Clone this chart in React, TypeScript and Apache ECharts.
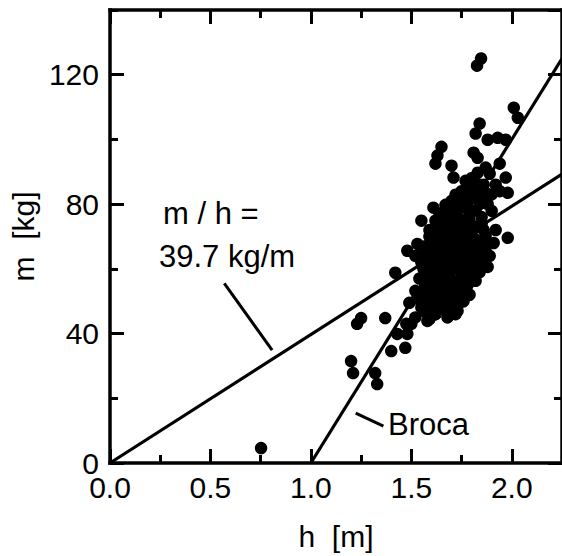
import React, { useEffect, useRef } from "react";
import * as echarts from "echarts";

// height h [m], mass m [kg]
const points: [number, number][] = [
  [0.752, 4.6],
  // low outliers
  [1.20, 31.5], [1.21, 27.8], [1.32, 27.8], [1.33, 24.4], [1.25, 44.8], [1.23, 43.0], [1.37, 44.8],
  [1.40, 34.6], [1.47, 35.6], [1.43, 39.9], [1.48, 39.9], [1.475, 43.0], [1.50, 43.0],
  [1.42, 58.8], [1.49, 49.5], [1.52, 53.2], [1.58, 43.9], [1.62, 46.0], [1.74, 49.5], [1.55, 49.5], [1.73, 50.1],
  // band 44-50
  [1.52, 45], [1.56, 47], [1.59, 44.5], [1.62, 46], [1.65, 48], [1.68, 45], [1.70, 49], [1.73, 47], [1.76, 50],
  [1.58, 50], [1.63, 49], [1.67, 50], [1.55, 48], [1.60, 48.5], [1.72, 46], [1.68, 46.5],
  // band 50-55
  [1.55, 52], [1.58, 53], [1.61, 51], [1.64, 54], [1.67, 52], [1.70, 53], [1.73, 51], [1.76, 54], [1.79, 52],
  [1.60, 55], [1.66, 55], [1.72, 55], [1.82, 56.3], [1.53, 51], [1.62, 53], [1.65, 51], [1.71, 51], [1.74, 53],
  // band 55-60
  [1.54, 57], [1.57, 58], [1.60, 56], [1.63, 59], [1.66, 57], [1.69, 58], [1.72, 56], [1.75, 59], [1.78, 57],
  [1.81, 58], [1.84, 59], [1.58, 60], [1.65, 60], [1.71, 60], [1.77, 60], [1.57, 55], [1.63, 57], [1.69, 55],
  [1.75, 57], [1.68, 56], [1.59, 59], [1.56, 60], [1.75, 60], [1.78, 55],
  // band 60-65
  [1.55, 62], [1.58, 63], [1.61, 61], [1.64, 62], [1.67, 64], [1.70, 61], [1.73, 63], [1.76, 62], [1.79, 64],
  [1.82, 61], [1.85, 63], [1.88, 60.6], [1.60, 65], [1.66, 65], [1.72, 65], [1.78, 65], [1.84, 65], [1.52, 64],
  [1.65, 62], [1.71, 63], [1.77, 63], [1.69, 63], [1.63, 64], [1.81, 63], [1.83, 62], [1.56, 65],
  // band 65-70
  [1.48, 65.6], [1.53, 67.7], [1.57, 67], [1.60, 68], [1.63, 66], [1.66, 69], [1.69, 67], [1.72, 68], [1.75, 66],
  [1.78, 69], [1.81, 67], [1.84, 68], [1.87, 66.5], [1.89, 64], [1.98, 69.6], [1.62, 70], [1.68, 70], [1.74, 70],
  [1.80, 70], [1.64, 68], [1.70, 69], [1.76, 68], [1.82, 69], [1.86, 69], [1.87, 70], [1.59, 70],
  // band 70-75
  [1.55, 74.9], [1.62, 74.9], [1.59, 72], [1.65, 73], [1.68, 71], [1.71, 74], [1.74, 72], [1.77, 74], [1.80, 71],
  [1.83, 73], [1.86, 72], [1.67, 75], [1.73, 75], [1.79, 75], [1.61, 72], [1.67, 72], [1.73, 73], [1.79, 72],
  [1.85, 74], [1.91, 68], [1.92, 72],
  // band 75-80
  [1.61, 78.9], [1.67, 79.8], [1.64, 77], [1.70, 78], [1.73, 76], [1.76, 79], [1.79, 77], [1.82, 78], [1.85, 76],
  [1.90, 77.9], [1.88, 80], [1.66, 76], [1.72, 77], [1.78, 79], [1.84, 80],
  // band 80-92
  [1.71, 88.2], [1.77, 87.2], [1.83, 89.7], [1.87, 91.3], [1.89, 89.4], [1.97, 88.2], [1.98, 83.5], [1.72, 82.9],
  [1.82, 82], [1.87, 83.5], [1.75, 84], [1.79, 85], [1.84, 86], [1.92, 86], [1.94, 84], [1.78, 81], [1.74, 80.5],
  [1.86, 81], [1.70, 81], [1.76, 82], [1.81, 84], [1.86, 86], [1.90, 83], [1.80, 88],
  // upper
  [1.847, 125], [1.827, 122.8], [2.01, 109.8], [2.03, 106.7], [1.84, 104.9], [1.82, 101.8], [1.88, 99.9],
  [1.93, 100.5], [1.97, 99.9], [1.65, 97.7], [1.63, 95], [1.62, 92.5], [1.81, 95.9], [1.83, 94.3], [1.70, 91.9], [1.94, 92.5],
];

const ratioLine: [number, number][] = [[0, 0], [2.25, 89.3]];
const brocaLine: [number, number][] = [[1.0, 0], [2.25, 125]];
const ratioLeader: [number, number][] = [[0.569, 55.5], [0.807, 34.9]];
const brocaLeader: [number, number][] = [[1.223, 15.4], [1.361, 11.4]];

const xTickLabels = ["0.0", "0.5", "1.0", "1.5", "2.0"];
const yTickLabels = ["0", "40", "80", "120"];

const FONT = "'Liberation Sans', Arial, Helvetica, sans-serif";

export default function App() {
  const ref = useRef<HTMLDivElement>(null);
  useEffect(() => {
    if (!ref.current) return;
    const chart = echarts.init(ref.current, undefined, { renderer: "svg" });
    const black = "#000";
    const baseX = { type: "value" as const, min: 0, max: 2.25, splitLine: { show: false } };
    const baseY = { type: "value" as const, min: 0, max: 140, splitLine: { show: false } };
    const line = { show: true, onZero: false, lineStyle: { color: black, width: 3.5, cap: "square" as const } };
    const noLine = { show: false, onZero: false };
    const major = { show: true, inside: true, length: 14, lineStyle: { color: black, width: 3 } };
    const minor = { show: true, inside: true, length: 8, lineStyle: { color: black, width: 3 } };
    chart.setOption({
      animation: false,
      backgroundColor: "#fff",
      grid: { left: 110, right: -2.5, top: 10, bottom: 93, containLabel: false },
      xAxis: [
        {
          ...baseX, position: "bottom", interval: 0.5, axisLine: line, axisTick: major,
          axisLabel: {
            show: true, fontSize: 30, lineHeight: 20, color: black, fontFamily: FONT, margin: 14, showMaxLabel: false,
            formatter: (v: number) => { const i = Math.round(v / 0.5); return Math.abs(v - i * 0.5) < 1e-6 ? xTickLabels[i] ?? "" : ""; },
          },
          name: "h  [m]", nameLocation: "middle", nameGap: 58,
          nameTextStyle: { fontSize: 30, color: black, fontFamily: FONT },
        },
        { ...baseX, position: "bottom", interval: 0.25, axisLine: noLine, axisTick: minor, axisLabel: { show: false } },
        { ...baseX, position: "top", interval: 0.5, axisLine: line, axisTick: major, axisLabel: { show: false } },
        { ...baseX, position: "top", interval: 0.25, axisLine: noLine, axisTick: minor, axisLabel: { show: false } },
      ],
      yAxis: [
        {
          ...baseY, position: "left", interval: 40, axisLine: line, axisTick: major,
          axisLabel: {
            show: true, fontSize: 30, lineHeight: 20, color: black, fontFamily: FONT, margin: 11, showMaxLabel: false,
            formatter: (v: number) => { const i = Math.round(v / 40); return Math.abs(v - i * 40) < 1e-6 ? yTickLabels[i] ?? "" : ""; },
          },
          name: "m  [kg]", nameLocation: "middle", nameGap: 66,
          nameTextStyle: { fontSize: 30, color: black, fontFamily: FONT },
        },
        { ...baseY, position: "left", interval: 20, axisLine: noLine, axisTick: minor, axisLabel: { show: false } },
        { ...baseY, position: "right", interval: 40, axisLine: line, axisTick: major, axisLabel: { show: false } },
        { ...baseY, position: "right", interval: 20, axisLine: noLine, axisTick: minor, axisLabel: { show: false } },
      ],
      series: [
        { type: "line", data: ratioLine, symbol: "none", xAxisIndex: 0, yAxisIndex: 0, lineStyle: { color: black, width: 3.2 }, z: 3 },
        { type: "line", data: brocaLine, symbol: "none", xAxisIndex: 0, yAxisIndex: 0, lineStyle: { color: black, width: 3.2 }, z: 3 },
        { type: "line", data: ratioLeader, symbol: "none", xAxisIndex: 0, yAxisIndex: 0, lineStyle: { color: black, width: 3 }, z: 3 },
        { type: "line", data: brocaLeader, symbol: "none", xAxisIndex: 0, yAxisIndex: 0, lineStyle: { color: black, width: 3 }, z: 3 },
        {
          type: "scatter", data: points, symbol: "circle", symbolSize: 12.5, xAxisIndex: 0, yAxisIndex: 0,
          itemStyle: { color: black, opacity: 1 }, z: 4,
        },
      ],
      graphic: [
        { type: "text", left: 163, top: 198, style: { text: "m / h =", fontSize: 31, fontFamily: FONT, fill: black } },
        { type: "text", left: 159, top: 241, style: { text: "39.7 kg/m", fontSize: 31, fontFamily: FONT, fill: black } },
        { type: "text", left: 388, top: 409, style: { text: "Broca", fontSize: 31, fontFamily: FONT, fill: black } },
      ],
    });
    return () => chart.dispose();
  }, []);
  return (
    <div
      ref={ref}
      style={{ position: "fixed", left: 0, top: 0, width: 562, height: 556, background: "#fff" }}
    />
  );
}
